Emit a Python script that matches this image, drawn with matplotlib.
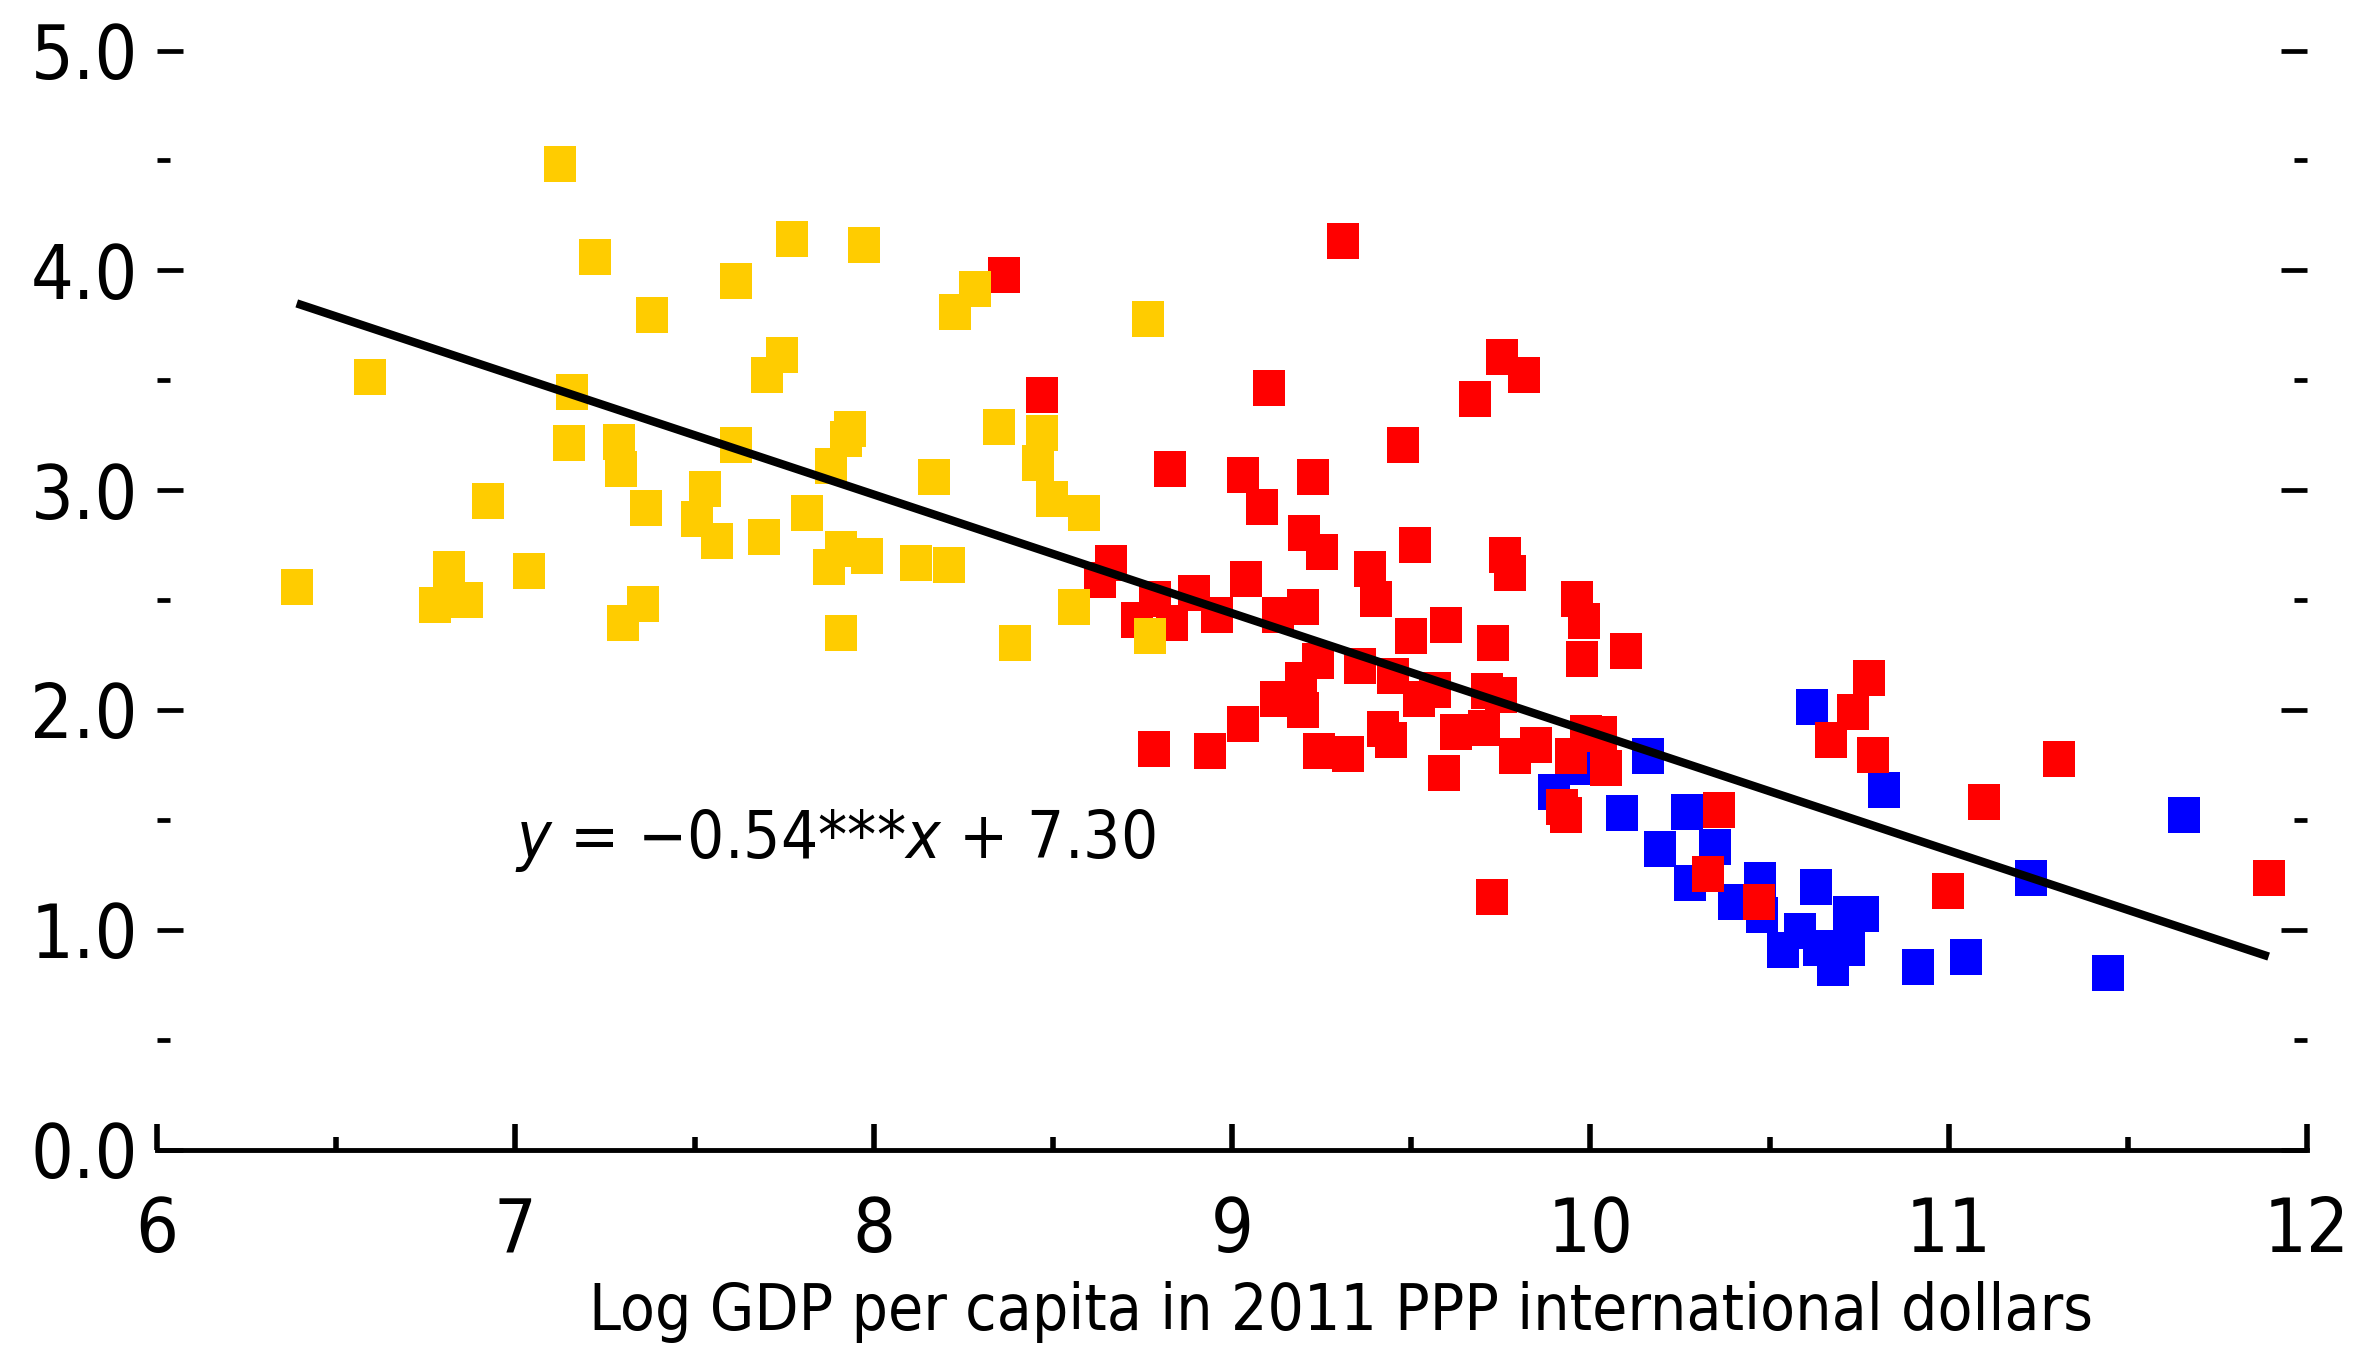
import matplotlib
matplotlib.use("Agg")
import matplotlib.pyplot as plt
from matplotlib.ticker import MultipleLocator
import numpy as np

# Log GDP per capita (x) against the indicator (y), by income group
low_x = [7.126, 7.223, 7.381, 7.617, 7.772, 6.595, 7.744, 7.703, 7.157, 7.149,
         7.289, 7.295, 7.617, 6.924, 7.366, 7.530, 7.508, 7.563, 7.693, 6.390,
         6.816, 6.776, 6.865, 7.037, 7.356, 7.300, 7.974, 8.282, 8.226, 8.766,
         7.933, 7.923, 7.882, 8.168, 8.349, 8.469, 8.459, 8.499, 8.587, 7.815,
         7.909, 7.876, 7.980, 8.117, 8.209, 7.908, 8.395, 8.560, 8.771]
low_y = [4.484, 4.061, 3.798, 3.952, 4.143, 3.516, 3.616, 3.525, 3.445, 3.216,
         3.217, 3.096, 3.207, 2.952, 2.919, 3.005, 2.869, 2.770, 2.787, 2.558,
         2.639, 2.478, 2.500, 2.634, 2.480, 2.396, 4.116, 3.914, 3.811, 3.778,
         3.276, 3.232, 3.108, 3.061, 3.289, 3.261, 3.124, 2.960, 2.896, 2.896,
         2.734, 2.652, 2.698, 2.670, 2.661, 2.351, 2.305, 2.470, 2.334]

mid_x = [8.365, 8.469, 9.102, 9.311, 8.827, 9.032, 9.085, 9.225, 9.200, 9.250,
         9.477, 9.677, 9.753, 9.814, 8.662, 8.631, 8.785, 8.736, 8.833, 8.893,
         8.959, 9.040, 9.129, 9.197, 9.240, 9.193, 9.124, 9.197, 9.032, 8.782,
         8.940, 9.243, 9.325, 9.386, 9.401, 9.510, 9.761, 9.777, 9.962, 9.982,
         9.976, 10.099, 9.728, 9.597, 9.499, 9.358, 9.450, 9.522, 9.567, 9.713,
         9.751, 9.420, 9.444, 9.592, 9.626, 9.704, 9.789, 9.849, 9.946, 9.987,
         10.029, 10.044, 9.922, 9.932, 9.725, 10.360, 10.329, 10.472, 10.733, 10.671,
         10.777, 10.790, 11.308, 11.099, 10.999, 11.893]
mid_y = [3.980, 3.434, 3.464, 4.133, 3.096, 3.070, 2.925, 3.061, 2.804, 2.717,
         3.207, 3.414, 3.607, 3.525, 2.668, 2.589, 2.505, 2.407, 2.395, 2.533,
         2.433, 2.596, 2.430, 2.470, 2.222, 2.137, 2.051, 1.998, 1.934, 1.822,
         1.814, 1.814, 1.800, 2.643, 2.505, 2.750, 2.707, 2.625, 2.505, 2.405,
         2.233, 2.269, 2.306, 2.388, 2.336, 2.200, 2.152, 2.051, 2.089, 2.087,
         2.070, 1.913, 1.864, 1.715, 1.898, 1.916, 1.788, 1.841, 1.788, 1.897,
         1.889, 1.734, 1.558, 1.520, 1.151, 1.544, 1.255, 1.124, 1.989, 1.864,
         2.143, 1.793, 1.777, 1.579, 1.177, 1.233]

high_x = [10.620, 10.161, 9.899, 9.960, 10.087, 10.270, 10.195, 10.348, 10.279, 10.400,
          10.474, 10.538, 10.480, 10.631, 10.586, 10.677, 10.637, 10.723, 10.721, 10.760,
          10.820, 11.658, 11.230, 10.914, 11.049, 11.445]
high_y = [2.015, 1.792, 1.625, 1.740, 1.533, 1.536, 1.365, 1.376, 1.214, 1.126,
          1.224, 0.907, 1.066, 1.196, 0.994, 0.824, 0.916, 1.070, 0.917, 1.070,
          1.637, 1.523, 1.233, 0.831, 0.877, 0.804]

slope = -0.54
intercept = 7.30

plt.rcParams['font.family'] = ['DejaVu Sans']
plt.rcParams['font.stretch'] = 'condensed'
plt.rcParams['mathtext.fontset'] = 'custom'
plt.rcParams['mathtext.rm'] = 'DejaVu Sans:stretch=condensed'
plt.rcParams['mathtext.it'] = 'DejaVu Sans:italic:stretch=condensed'

fig = plt.figure(figsize=(23.77, 13.52), dpi=100)
ax = fig.add_axes([157 / 2377, 1 - 1149.5 / 1352, 2150 / 2377, 1099 / 1352])

# slightly tall square markers
box = [(-0.458, -0.5), (0.458, -0.5), (0.458, 0.5), (-0.458, 0.5), (-0.458, -0.5)]
ms = 25.9
ax.plot(high_x, high_y, ls='none', marker=box, ms=ms, mew=0, color='#0000ff', zorder=2)
ax.plot(mid_x, mid_y, ls='none', marker=box, ms=ms, mew=0, color='#ff0000', zorder=3)
ax.plot(low_x, low_y, ls='none', marker=box, ms=ms, mew=0, color='#ffcc00', zorder=4)

# fitted line over the range of the data
all_x = np.array(low_x + mid_x + high_x)
fit_x = np.array([all_x.min(), all_x.max()])
ax.plot(fit_x, slope * fit_x + intercept, color='black', lw=6,
        solid_capstyle='butt', zorder=5)

ax.text(7.0, 1.325, r'$y$ = −0.54***$x$ + 7.30', fontsize=47,
        ha='left', va='baseline')

ax.set_xlim(6, 12)
ax.set_ylim(0, 5)
ax.xaxis.set_major_locator(MultipleLocator(1))
ax.xaxis.set_minor_locator(MultipleLocator(0.5))
ax.yaxis.set_major_locator(MultipleLocator(1))
ax.yaxis.set_minor_locator(MultipleLocator(0.5))
ax.yaxis.set_major_formatter(matplotlib.ticker.FormatStrFormatter('%.1f'))

for side in ['top', 'left', 'right']:
    ax.spines[side].set_visible(False)
ax.spines['bottom'].set_linewidth(3.5)

ax.tick_params(axis='x', which='both', direction='in', width=4, labelsize=54, pad=33)
ax.tick_params(axis='x', which='major', length=18.7)
ax.tick_params(axis='x', which='minor', length=9.4)
ax.tick_params(axis='y', which='both', direction='in', width=3.4, labelsize=54,
               pad=13.7, left=True, right=True)
ax.tick_params(axis='y', which='major', length=18.7)
ax.tick_params(axis='y', which='minor', length=9.4)

ax.set_xlabel('Log GDP per capita in 2011 PPP international dollars', fontsize=46)
ax.xaxis.set_label_coords(0.5507, -0.12)

fig.savefig('out.png', dpi=100)
